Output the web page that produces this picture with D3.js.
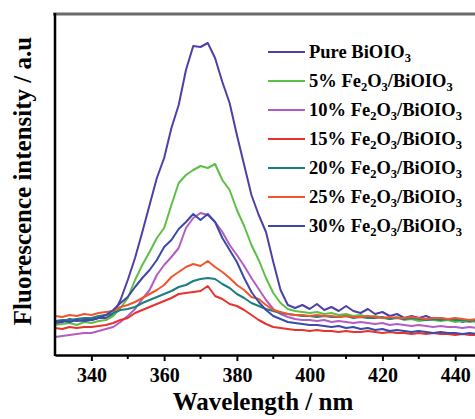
<!doctype HTML>
<html>
<head>
    <style>
        body { margin: 0; background: white; }
        text { font-family: "Liberation Serif", "Times New Roman", serif; font-weight: bold; fill: black; }
        .curve { fill: none; stroke-width: 2px; stroke-linejoin: round; }
    </style>
    <script src="https://d3js.org/d3.v7.min.js"></script>
</head>
<body>
<script>
    var canvasWidth = 475;
    var canvasHeight = 419;

    // wavelength grid (nm)
    var wavelengths = [330, 332, 334, 336, 338, 340, 342, 344, 346, 348,
        350, 352, 354, 356, 358, 360, 362, 364, 366, 368,
        370, 372, 374, 376, 378, 380, 382, 384, 386, 388,
        390, 392, 394, 396, 398, 400, 402, 404, 406, 408,
        410, 412, 414, 416, 418, 420, 422, 424, 426, 428,
        430, 432, 434, 436, 438, 440, 442, 444, 446];

    // intensities (a.u.)
    var pure = [31, 33, 36, 34, 35, 35, 37, 37, 41, 55,
        75, 97, 123, 150, 177, 197, 227, 250, 285, 309,
        308, 312, 297, 273, 252, 220, 190, 160, 140, 123,
        93, 65, 50, 47, 50, 46, 51, 45, 48, 44,
        49, 44, 42, 46, 41, 43, 39, 41, 37, 39,
        37, 39, 36, 37, 35, 36, 33, 35, 33];
    var fe5 = [30, 31, 32, 30, 33, 32, 34, 35, 39, 47,
        57, 75, 90, 103, 117, 127, 150, 172, 180, 185,
        189, 187, 191, 175, 165, 145, 129, 110, 95, 77,
        62, 52, 46, 44, 43, 42, 43, 41, 42, 40,
        41, 39, 40, 38, 39, 37, 36, 38, 35, 36,
        34, 35, 35, 34, 35, 33, 34, 33, 34];
    var fe10 = [18, 19, 20, 21, 22, 22, 24, 26, 28, 33,
        39, 46, 56, 65, 80, 90, 98, 107, 127, 137,
        142, 140, 133, 123, 110, 100, 89, 77, 66, 55,
        46, 41, 38, 36, 35, 35, 34, 35, 33, 34,
        33, 32, 33, 32, 31, 32, 30, 31, 30, 29,
        30, 29, 28, 29, 28, 28, 27, 28, 27];
    var fe15 = [27, 26, 28, 27, 28, 28, 29, 30, 32, 35,
        37, 42, 45, 48, 51, 54, 57, 61, 62, 63,
        64, 69, 59, 56, 51, 49, 45, 40, 35, 31,
        28, 27, 26, 25, 25, 24, 25, 24, 24, 23,
        24, 23, 23, 24, 23, 22, 23, 22, 22, 21,
        22, 21, 22, 21, 21, 20, 21, 20, 20];
    var fe20 = [34, 35, 35, 36, 37, 37, 39, 40, 42, 45,
        46, 48, 52, 55, 58, 61, 64, 68, 70, 74,
        76, 77, 76, 71, 67, 61, 57, 52, 49, 46,
        44, 42, 41, 40, 39, 39, 38, 39, 38, 38,
        39, 37, 38, 37, 37, 38, 36, 37, 36, 37,
        36, 35, 36, 35, 36, 35, 35, 34, 35];
    var fe25 = [39, 38, 40, 39, 41, 40, 42, 43, 44, 48,
        50, 53, 57, 61, 65, 70, 78, 83, 88, 91,
        89, 94, 88, 83, 77, 70, 65, 58, 56, 50,
        45, 43, 41, 40, 40, 39, 40, 39, 39, 38,
        39, 38, 38, 39, 38, 37, 38, 37, 37, 38,
        37, 36, 37, 37, 36, 37, 36, 35, 36];
    var fe30 = [33, 34, 33, 35, 34, 35, 37, 40, 45, 52,
        58, 68, 77, 85, 95, 108, 115, 126, 133, 141,
        135, 141, 133, 117, 105, 93, 77, 63, 53, 45,
        39, 36, 33, 32, 31, 30, 30, 29, 28, 29,
        27, 28, 26, 27, 25, 26, 24, 25, 24, 23,
        24, 23, 22, 23, 22, 22, 21, 22, 21];

    var seriesNames = ["Pure", "5%", "10%", "15%", "20%", "25%", "30%"];
    var seriesValues = [pure, fe5, fe10, fe15, fe20, fe25, fe30];
    var seriesColors = ["#4f3fa6", "#5dbf45", "#b35cc2", "#e8322e", "#1a7f7f", "#f0552e", "#3b4aa8"];

    var majorTicks = [340, 360, 380, 400, 420, 440];
    var minorTicks = [350, 370, 390, 410, 430];

    var svg = d3.select("body").append("svg")
        .attr("width", canvasWidth)
        .attr("height", canvasHeight);

    var plotLeft = 55, plotTop = 14, plotBottom = 355, plotRight = 477;

    var xScale = d3.scaleLinear().domain([330, 446]).range([plotLeft, plotRight]);
    var yScale = d3.scaleLinear().domain([0, 341]).range([plotBottom, plotTop]);

    svg.append("clipPath").attr("id", "plotclip")
        .append("rect")
        .attr("x", plotLeft).attr("y", plotTop)
        .attr("width", canvasWidth - plotLeft).attr("height", plotBottom - plotTop);

    var line = d3.line()
        .x(function(d, i) { return xScale(wavelengths[i]); })
        .y(function(d) { return yScale(d); });

    svg.append("g")
        .attr("clip-path", "url(#plotclip)")
        .selectAll("path")
        .data(seriesValues)
        .enter()
        .append("path")
            .attr("class", "curve")
            .attr("d", function(d) { return line(d); })
            .style("stroke", function(d, i) { return seriesColors[i]; });

    // frame: grey top edge, black left and bottom axes
    svg.append("line")
        .attr("x1", plotLeft - 2).attr("x2", canvasWidth)
        .attr("y1", plotTop).attr("y2", plotTop)
        .attr("stroke", "#6b6b6b").attr("stroke-width", 3);

    svg.append("line")
        .attr("x1", plotLeft).attr("x2", plotLeft)
        .attr("y1", plotTop - 1).attr("y2", plotBottom + 1)
        .attr("stroke", "black").attr("stroke-width", 2.5);

    //Display the X-axis
    var xAxis = svg.append("g")
        .attr("transform", "translate(0," + plotBottom + ")")
        .call(d3.axisBottom(xScale).tickValues(majorTicks).tickSize(6).tickPadding(7).tickSizeOuter(0));
    xAxis.select(".domain").attr("stroke", "black").attr("stroke-width", 2.5);
    xAxis.selectAll(".tick line").attr("stroke-width", 2);
    xAxis.selectAll(".tick text")
        .attr("font-family", "Liberation Serif, serif")
        .attr("font-weight", "bold")
        .attr("font-size", "20px")
        .attr("fill", "black");

    svg.append("g")
        .attr("transform", "translate(0," + plotBottom + ")")
        .selectAll("line")
        .data(minorTicks)
        .enter()
        .append("line")
            .attr("x1", function(d) { return xScale(d); })
            .attr("x2", function(d) { return xScale(d); })
            .attr("y1", 0).attr("y2", 4)
            .attr("stroke", "black").attr("stroke-width", 2);

    svg.append("text")
        .attr("x", 263)
        .attr("y", 410)
        .attr("text-anchor", "middle")
        .attr("font-size", "25px")
        .text("Wavelength / nm");

    svg.append("text")
        .attr("transform", "translate(31,181) rotate(-90)")
        .attr("text-anchor", "middle")
        .attr("font-size", "25px")
        .text("Fluorescence intensity / a.u");

    // legend
    var legend = svg.selectAll(".legend")
        .data(seriesNames)
        .enter()
        .append("g")
            .attr("class", "legend")
            .attr("transform", function(d, i) { return "translate(268," + (52 + i * 29) + ")"; });

    legend.append("line")
        .attr("x1", 0).attr("x2", 37)
        .attr("y1", 0).attr("y2", 0)
        .attr("stroke-width", 2)
        .style("stroke", function(d, i) { return seriesColors[i]; });

    var label = legend.append("text")
        .attr("x", 41)
        .attr("y", 6)
        .attr("font-size", "18.5px");

    label.each(function(d) {
        var t = d3.select(this);
        if (d === "Pure") {
            t.append("tspan").text("Pure BiOIO");
            t.append("tspan").attr("dy", 4).attr("font-size", "12.5px").text("3");
            return;
        }
        t.append("tspan").text(d + " Fe");
        t.append("tspan").attr("dy", 4).attr("font-size", "12.5px").text("2");
        t.append("tspan").attr("dy", -4).text("O");
        t.append("tspan").attr("dy", 4).attr("font-size", "12.5px").text("3");
        t.append("tspan").attr("dy", -4).text("/BiOIO");
        t.append("tspan").attr("dy", 4).attr("font-size", "12.5px").text("3");
    });
</script>
</body>
</html>
